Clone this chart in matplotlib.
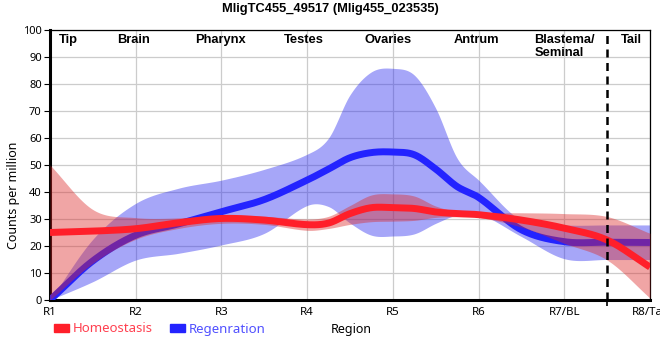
import numpy as np
import matplotlib
matplotlib.use("Agg")
import matplotlib.pyplot as plt
from matplotlib.patches import Patch

# region positions (R1=0 ... R8=7)
xs = [0, 0.5, 1, 1.5, 2, 2.5, 3, 3.25, 3.5, 3.75, 4, 4.25, 4.5, 4.75, 5, 5.5, 6, 6.5, 7]

homeo_mean = [25, 25.5, 26.4, 28.6, 30.2, 29.6, 27.9, 28.5, 32, 34.2, 34.2, 33.9, 32.6, 32, 31.6, 29.6, 26.6, 22.2, 12.2]
homeo_hi = [50, 33.5, 30.5, 30.4, 31.5, 31, 30, 31, 35, 38.9, 39.3, 38.5, 34.8, 32.8, 32.3, 32.3, 32, 30.9, 24.7]
homeo_lo = [0, 13.6, 22.5, 26.5, 28.4, 28, 25.8, 26.5, 28, 29, 29.2, 29.5, 30.6, 30.8, 30.6, 27, 21, 14.8, 0.7]

regen_mean = [0, 14.5, 24, 28.2, 32.7, 37.2, 44.4, 48.5, 52.7, 54.6, 54.8, 53.8, 48.5, 42, 38, 26, 21.6, 21.4, 21.3]
regen_hi = [0, 22.5, 35.8, 41.4, 44.4, 48.4, 54, 60, 76, 84.5, 85.8, 83.3, 71, 52.5, 44.4, 29.5, 27.8, 27.8, 27.8]
regen_lo = [0, 6.8, 14.8, 17.3, 20.4, 24.7, 35, 34.6, 28.5, 24, 23.7, 24.5, 28.4, 31.5, 32, 23.5, 15.3, 15, 15]

tick_labels = ["R1", "R2", "R3", "R4", "R5", "R6", "R7/BL", "R8/Tail"]
region_names = ["Tip", "Brain", "Pharynx", "Testes", "Ovaries", "Antrum", "Blastema/\nSeminal", "Tail"]
region_pos = [0.22, 0.97, 1.99, 2.96, 3.94, 4.98, 5.65, 6.78]
region_ha = ["center"] * 6 + ["left", "center"]
boundary = 6.5


def smooth(x, y, xn):
    # cardinal (Catmull-Rom style) cubic through the points
    x = np.asarray(x, float)
    y = np.asarray(y, float)
    h = np.diff(x)
    m = np.empty_like(y)
    m[1:-1] = (y[2:] - y[:-2]) / (x[2:] - x[:-2])
    m[0] = (y[1] - y[0]) / h[0]
    m[-1] = (y[-1] - y[-2]) / h[-1]
    idx = np.clip(np.searchsorted(x, xn) - 1, 0, len(x) - 2)
    t = (xn - x[idx]) / h[idx]
    h00 = 2 * t**3 - 3 * t**2 + 1
    h10 = t**3 - 2 * t**2 + t
    h01 = -2 * t**3 + 3 * t**2
    h11 = t**3 - t**2
    return h00 * y[idx] + h10 * h[idx] * m[idx] + h01 * y[idx + 1] + h11 * h[idx] * m[idx + 1]


xf = np.linspace(0, 7, 500)

fig = plt.figure(figsize=(6.6, 3.6), dpi=100)
ax = fig.add_axes([50 / 660, 60 / 360, 600 / 660, 270 / 360])

red = "#ff1f2a"
blue = "#2323ff"

ax.fill_between(xf, smooth(xs, regen_lo, xf), smooth(xs, regen_hi, xf),
                color="#2b2bf0", alpha=0.42, lw=0, zorder=2)
ax.plot(xf, smooth(xs, regen_mean, xf), color=blue, lw=5, zorder=3, solid_capstyle="butt")
ax.fill_between(xf, smooth(xs, homeo_lo, xf), smooth(xs, homeo_hi, xf),
                color="#dc2a2a", alpha=0.42, lw=0, zorder=4)
ax.plot(xf, smooth(xs, homeo_mean, xf), color=red, lw=5, zorder=5, solid_capstyle="butt")

ax.axvline(boundary, color="black", lw=1.8, ls=(0, (3.2, 2.2)), zorder=6)

ax.set_xlim(0, 7)
ax.set_ylim(0, 100)
ax.set_xticks(range(8))
ax.set_xticklabels(tick_labels, fontsize=8.3, family="Noto Sans")
ax.set_xticks([boundary], minor=True)
ax.set_yticks(range(0, 101, 10))
ax.set_yticklabels([str(v) for v in range(0, 101, 10)], fontsize=8, family="Noto Sans")
ax.tick_params(axis="x", which="major", length=0, pad=5)
ax.tick_params(axis="x", which="minor", length=4, width=1.2, color="black")
ax.tick_params(axis="y", length=4, width=0.8, pad=2)
ax.grid(True, color="#cccccc", lw=0.9, zorder=0)
ax.set_axisbelow(True)

for s in ["left", "bottom"]:
    ax.spines[s].set_linewidth(2.2)
for s in ["top", "right"]:
    ax.spines[s].set_linewidth(0.9)

for name, p, ha in zip(region_names, region_pos, region_ha):
    ax.text(p, 98.6, name, ha=ha, va="top", fontsize=9.3, fontweight="bold",
            family="Liberation Sans", linespacing=1.12, zorder=7)

fig.text(0.5, 0.992, "MligTC455_49517 (Mlig455_023535)", ha="center", va="top",
         fontsize=9.3, fontweight="bold", family="Liberation Sans")
fig.text(14 / 660, 165 / 360, "Counts per million", rotation=90, ha="center",
         va="center", fontsize=9, family="Noto Sans")
fig.text(351 / 660, 1 - 330 / 360, "Region", ha="center", va="center", fontsize=9,
         family="Noto Sans")

handles = [Patch(color=red), Patch(color=blue)]
leg = fig.legend(handles, ["Homeostasis", "Regenration"], loc="center left",
                 bbox_to_anchor=(42 / 660, 1 - 329 / 360), ncol=2, frameon=False,
                 handlelength=1.15, handleheight=0.5, handletextpad=0.3,
                 columnspacing=1.25, prop={"family": "Noto Sans", "size": 9.5})
for txt, c in zip(leg.get_texts(), ["#ff4050", "#5050ff"]):
    txt.set_color(c)

fig.savefig("out.png", dpi=100)
